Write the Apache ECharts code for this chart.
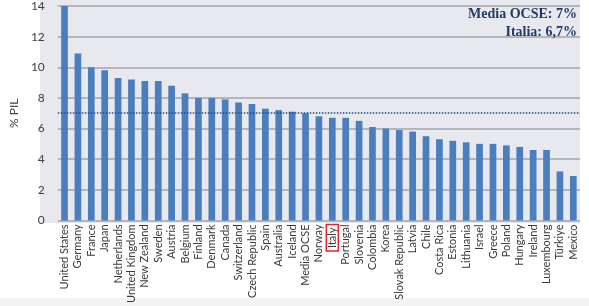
<!DOCTYPE html>
<html>
<head>
<meta charset="utf-8">
<script src="https://cdn.jsdelivr.net/npm/echarts@6/dist/echarts.min.js"></script>
<style>
html,body{margin:0;padding:0;background:#fff;}
#c{width:589px;height:306px;}
</style>
</head>
<body>
<div id="c"></div>
<script>
const categories = ["United States","Germany","France","Japan","Netherlands","United Kingdom","New Zealand","Sweden","Austria","Belgium","Finland","Denmark","Canada","Switzerland","Czech Republic","Spain","Australia","Iceland","Media OCSE","Norway","Italy","Portugal","Slovenia","Colombia","Korea","Slovak Republic","Latvia","Chile","Costa Rica","Estonia","Lithuania","Israel","Greece","Poland","Hungary","Ireland","Luxembourg","Türkiye","Mexico"];
const values = [14.1,10.9,10.0,9.8,9.3,9.2,9.1,9.1,8.8,8.3,8.0,8.0,7.9,7.7,7.6,7.3,7.2,7.1,7.0,6.8,6.7,6.7,6.5,6.1,6.0,5.9,5.8,5.5,5.3,5.2,5.1,5.0,5.0,4.9,4.8,4.6,4.6,3.2,2.9];
const oecdAverage = 7.0;
const highlighted = "Italy";
const yTicks = {min:0, max:14, interval:2};
const annotationLines = ["Media OCSE: 7%","Italia: 6,7%"];

const chart = echarts.init(document.getElementById('c'), null, {renderer:'canvas'});
chart.setOption({
  animation:false,
  backgroundColor:'#ffffff',
  graphic:[
    {type:'rect', z:-10, silent:true, shape:{x:40,y:0,width:540,height:223}, style:{fill:'#e8e9ee'}},
    {type:'rect', z:-10, silent:true, shape:{x:0,y:298,width:589,height:8}, style:{fill:'#f4f4f4'}},
    {type:'text', z:100, right:12, top:5, style:{text:annotationLines.join('\n'), fill:'#1f3a68', font:'bold 14px "Liberation Serif"', textAlign:'right', lineHeight:18}}
  ],
  grid:{left:40, right:9, top:4, bottom:83, containLabel:false},
  xAxis:{
    type:'category', data:categories,
    axisLine:{show:false}, axisTick:{show:false},
    axisLabel:{
      interval:0, rotate:90, margin:4, fontSize:11, color:'#3a3a3a', fontFamily:'Lato',
      formatter:function(v){ return v===highlighted ? '{box|'+v+'}' : v; },
      rich:{box:{borderColor:'#e8262a', borderWidth:1.5, padding:[1,3,0,3], fontSize:11, color:'#3a3a3a', fontFamily:'Lato'}}
    }
  },
  yAxis:{
    type:'value', min:yTicks.min, max:yTicks.max, interval:yTicks.interval,
    name:'% PIL', nameLocation:'middle', nameGap:27,
    nameTextStyle:{fontSize:12, color:'#404040', fontFamily:'Lato'},
    axisLine:{show:false}, axisTick:{show:false},
    axisLabel:{fontSize:12, color:'#404040', fontFamily:'Lato', margin:13},
    splitLine:{lineStyle:{color:'#a4a4a8', width:1.5}}
  },
  series:[{
    type:'bar', data:values, barWidth:'50%',
    itemStyle:{color:'#4a7ebf'},
    markLine:{
      silent:true, symbol:'none', label:{show:false},
      lineStyle:{color:'#1f4e8c', type:'dotted', width:1.5},
      data:[{yAxis:oecdAverage}]
    }
  }]
});
</script>
</body>
</html>
